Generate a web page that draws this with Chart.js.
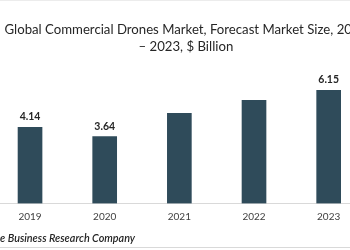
<!DOCTYPE html>
<html>
<head>
<meta charset="utf-8">
<script src="https://cdn.jsdelivr.net/npm/chart.js@4/dist/chart.umd.min.js"></script>
<style>
  html, body { margin: 0; padding: 0; width: 350px; height: 250px; overflow: hidden; background: #fff; position: relative; }
  #wrap { position: absolute; left: -30px; top: 0; width: 440px; height: 250px; }
  #src { position: absolute; left: -50px; top: 231px; font: italic 600 10.8px Lato, sans-serif; line-height: 14px; color: #262626; white-space: nowrap; }
  #topline { position: absolute; left: 0; top: 0; width: 350px; height: 1px; background: #ececec; }
  #botline { position: absolute; left: 0; top: 247px; width: 350px; height: 1px; background: #d9d9d9; }
</style>
</head>
<body>
<div id="topline"></div>
<div id="wrap"><canvas id="c" width="440" height="250"></canvas></div>
<div id="src"><span id="pre">Source: Th</span>e Business Research Company</div>
<div id="botline"></div>
<script>
const years = ['2019', '2020', '2021', '2022', '2023'];
const marketSize = [4.14, 3.64, 4.90, 5.61, 6.15];
const shownLabels = ['4.14', '3.64', '', '', '6.15'];
const titleLines = ['Global Commercial Drones Market, Forecast Market Size, 2019', '\u2013 2023, $ Billion'];

// place the source line so that its visible part begins at the left edge, as in the reference
const pre = document.getElementById('pre');
document.getElementById('src').style.left = (-pre.getBoundingClientRect().width) + 'px';

const barLabels = {
  id: 'barLabels',
  afterDatasetsDraw(chart) {
    const ctx = chart.ctx;
    const meta = chart.getDatasetMeta(0);
    ctx.save();
    ctx.font = 'bold 10.5px Lato, sans-serif';
    ctx.fillStyle = '#262626';
    ctx.textAlign = 'center';
    ctx.textBaseline = 'alphabetic';
    meta.data.forEach((bar, i) => {
      if (shownLabels[i]) ctx.fillText(shownLabels[i], bar.x, bar.y - 7);
    });
    ctx.restore();
  }
};

new Chart(document.getElementById('c'), {
  type: 'bar',
  data: {
    labels: years,
    datasets: [{
      data: marketSize,
      backgroundColor: '#2f4b5a',
      barThickness: 24
    }]
  },
  options: {
    responsive: false,
    animation: false,
    devicePixelRatio: 1,
    layout: { padding: { left: 22.7, right: 31, top: 0, bottom: 0 } },
    plugins: {
      legend: { display: false },
      tooltip: { enabled: false },
      title: {
        display: true,
        text: titleLines,
        color: '#262626',
        font: { family: 'Lato, sans-serif', size: 13.2, weight: 'normal', lineHeight: 1.29 },
        padding: { top: 21, bottom: 5 }
      }
    },
    scales: {
      x: {
        grid: { display: false, drawTicks: false },
        border: { display: true, color: '#d9d9d9', width: 1 },
        ticks: { color: '#404040', font: { family: 'Lato, sans-serif', size: 10 }, padding: 7 },
        afterFit(scale) { scale.height = 46.5; }
      },
      y: {
        position: 'right',
        min: 0,
        max: 7.8,
        grid: { display: false },
        border: { display: false },
        ticks: { display: false },
        afterFit(scale) { scale.width = 13; }
      }
    }
  },
  plugins: [barLabels]
});
</script>
</body>
</html>
